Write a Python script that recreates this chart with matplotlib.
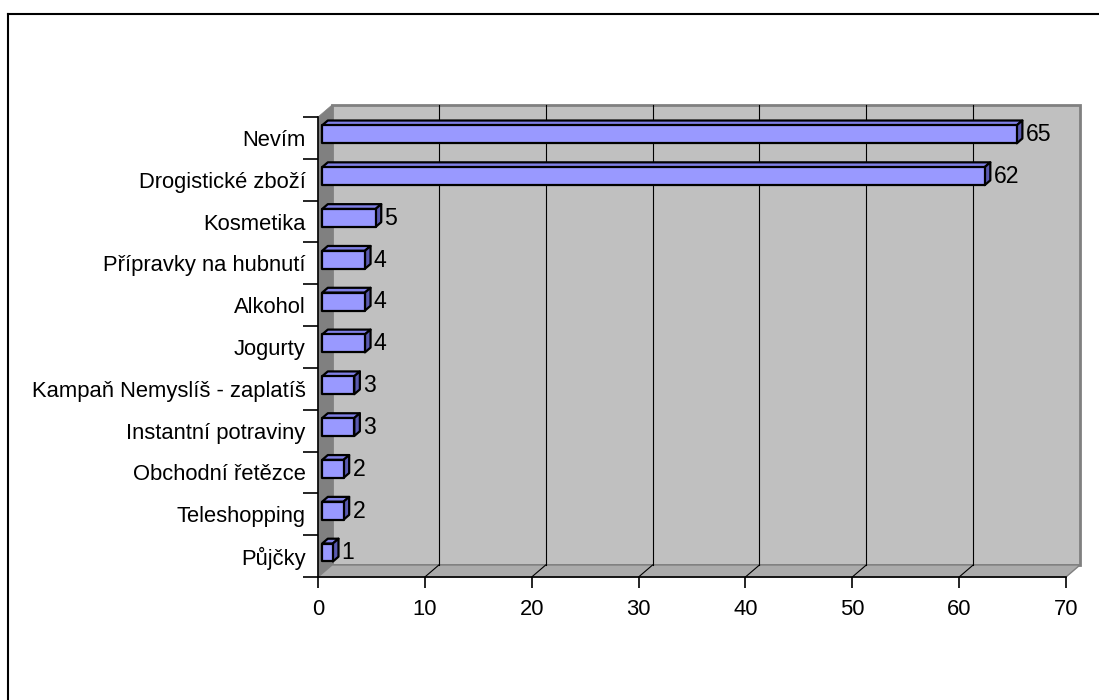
import matplotlib.pyplot as plt
from matplotlib.patches import Polygon, Rectangle
from matplotlib.lines import Line2D
import numpy as np

plt.rcParams['font.family'] = ['Liberation Sans', 'DejaVu Sans']

# categories as listed from top to bottom
categories = ['Nevím', 'Drogistické zboží', 'Kosmetika', 'Přípravky na hubnutí',
              'Alkohol', 'Jogurty', 'Kampaň Nemyslíš - zaplatíš',
              'Instantní potraviny', 'Obchodní řetězce', 'Teleshopping', 'Půjčky']
counts = [65, 62, 5, 4, 4, 4, 3, 3, 2, 2, 1]
xticks = [0, 10, 20, 30, 40, 50, 60, 70]

cats = categories[::-1]
vals = counts[::-1]
n = len(cats)
fs = 15.8

W, H = 1099, 700
fig = plt.figure(figsize=(W / 100, H / 100), dpi=100)

# outer chart frame (only top and left visible)
fig.add_artist(Line2D([8 / W, 8 / W], [0, 1 - 14 / H], color='black', lw=1.5))
fig.add_artist(Line2D([8 / W, 1], [1 - 14 / H, 1 - 14 / H], color='black', lw=1.5))

x0, x1 = 318, 1066
ytop, ybot = 117, 577
ax = fig.add_axes([x0 / W, (H - ybot) / H, (x1 - x0) / W, (ybot - ytop) / H])
xmax = 70
ax.set_xlim(0, xmax)
ax.set_ylim(-0.5, n - 0.5)

# depth of the 3d box in data units
pxx = (x1 - x0) / xmax
pxy = (ybot - ytop) / n
DX = 14 / pxx
DY = 12 / pxy
lo, hi = -0.5, n - 0.5

# back wall
ax.add_patch(Rectangle((DX, lo + DY), xmax, n, facecolor='#C0C0C0',
                       edgecolor='#808080', lw=2, clip_on=False, zorder=1))
# left wall
ax.add_patch(Polygon([(0, lo), (DX, lo + DY), (DX, hi + DY), (0, hi)],
                     facecolor='#808080', edgecolor='#808080', lw=0.5,
                     clip_on=False, zorder=1))
# floor
ax.add_patch(Polygon([(0, lo), (xmax, lo), (xmax + DX, lo + DY), (DX, lo + DY)],
                     facecolor='#ABABAB', edgecolor='#808080', lw=1,
                     clip_on=False, zorder=1))

# gridlines on the back wall and the floor
for t in xticks[1:-1]:
    ax.plot([t + DX, t + DX], [lo + DY, hi + DY], color='black', lw=0.8,
            clip_on=False, zorder=2)
    ax.plot([t, t + DX], [lo, lo + DY], color='black', lw=0.8,
            clip_on=False, zorder=2)

# bars
d0, d1 = 0.3, 0.7
bh = 0.43
ddx = (d1 - d0) * DX
ddy = (d1 - d0) * DY
for i, v in enumerate(vals):
    fx = d0 * DX
    fc = i + d0 * DY
    yb, yt = fc - bh / 2, fc + bh / 2
    kw = dict(edgecolor='black', lw=1.6, joinstyle='round', clip_on=False, zorder=4)
    ax.add_patch(Polygon([(fx, yt), (fx + v, yt), (fx + v + ddx, yt + ddy),
                          (fx + ddx, yt + ddy)], facecolor='#8080E6', **kw))
    ax.add_patch(Polygon([(fx + v, yb), (fx + v, yt), (fx + v + ddx, yt + ddy),
                          (fx + v + ddx, yb + ddy)], facecolor='#5A5AB0', **kw))
    ax.add_patch(Rectangle((fx, yb), v, bh, facecolor='#9999FF', **kw))
    ax.text(fx + v + ddx + 0.3, fc - 0.01, str(v),
            ha='left', va='center', fontsize=fs + 0.8, zorder=5)

# axes
for s in ['top', 'right']:
    ax.spines[s].set_visible(False)
for s in ['left', 'bottom']:
    ax.spines[s].set_color('black')
    ax.spines[s].set_linewidth(1.2)
    ax.spines[s].set_zorder(3)
ax.set_facecolor('none')

ax.set_xticks(xticks)
ax.tick_params(axis='x', length=8, width=1.2, pad=8, labelsize=fs)
ax.set_yticks(np.arange(n))
ax.set_yticklabels(cats)
ax.set_yticks(np.arange(n + 1) - 0.5, minor=True)
ax.tick_params(axis='y', which='major', length=0, pad=9, labelsize=fs)
ax.tick_params(axis='y', which='minor', length=11, width=1.2)

fig.savefig('out.png', dpi=100)
